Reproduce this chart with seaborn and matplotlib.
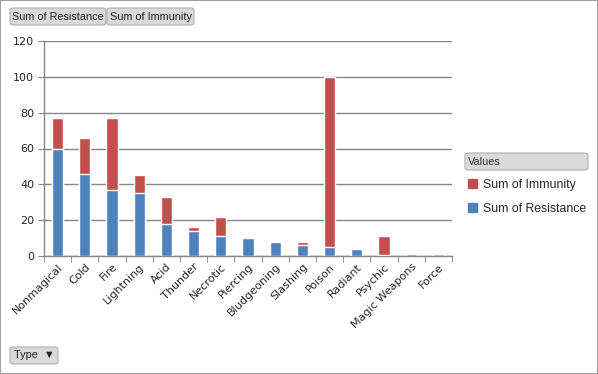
import matplotlib
matplotlib.use('Agg')
import matplotlib.pyplot as plt
import seaborn as sns
import pandas as pd
from matplotlib.patches import FancyBboxPatch, Rectangle, Patch

# Datos
tipos = ['Nonmagical', 'Cold', 'Fire', 'Lightning', 'Acid', 'Thunder', 'Necrotic',
         'Piercing', 'Bludgeoning', 'Slashing', 'Poison', 'Radiant', 'Psychic',
         'Magic Weapons', 'Force']
resistencia = [60, 46, 37, 35, 18, 14, 11, 10, 8, 6, 5, 4, 0.5, 1, 0]
inmunidad = [17, 20, 40, 10, 15, 2, 11, 0, 0, 2, 95, 0, 10.5, 0, 1]

df = pd.DataFrame({'Type': tipos, 'Resistance': resistencia, 'Immunity': inmunidad})
df['Total'] = df['Resistance'] + df['Immunity']

azul = '#4F81BD'
rojo = '#C0504D'
gris = '#868686'

sns.set_style('white')
plt.rcParams['font.family'] = ['DejaVu Sans']

W, H = 598, 374
fig = plt.figure(figsize=(W / 100, H / 100), dpi=100)

def fx(x):
    return x / W

def fy(y):
    return 1 - y / H

ax = fig.add_axes([fx(44), fy(256), fx(452) - fx(44), fy(41) - fy(256)])

sns.barplot(data=df, x='Type', y='Total', color=rojo, width=0.41, saturation=1, ax=ax, zorder=3)
sns.barplot(data=df, x='Type', y='Resistance', color=azul, width=0.41, saturation=1, ax=ax, zorder=3)

ax.set_ylim(0, 120)
ax.set_xlim(-0.5, len(tipos) - 0.5)
ax.set_yticks(range(0, 121, 20))
ax.yaxis.grid(True, color=gris, linewidth=1, zorder=0)
ax.set_axisbelow(True)
ax.set_xlabel('')
ax.set_ylabel('')
for s in ['top', 'right']:
    ax.spines[s].set_visible(False)
for s in ['left', 'bottom']:
    ax.spines[s].set_color(gris)
    ax.spines[s].set_linewidth(1)

ax.set_xticks(range(len(tipos)))
ax.set_xticklabels(tipos, rotation=45, ha='right', rotation_mode='anchor', fontsize=8)
ax.tick_params(axis='x', length=0, pad=4)
ax.tick_params(axis='y', labelsize=8, length=4, color=gris, left=True, pad=3)
# marcas entre categorias
ax.set_xticks([i - 0.5 for i in range(len(tipos) + 1)], minor=True)
ax.tick_params(axis='x', which='minor', length=4, color=gris, bottom=True, direction='out')

# borde de la figura
fig.patches.append(Rectangle((0, 0), 1, 1, transform=fig.transFigure, fill=False,
                             edgecolor='#A0A0A0', linewidth=1.5))

def boton(x0, y0, x1, y1, texto, fs=8, ha='center'):
    p = FancyBboxPatch((fx(x0), fy(y1)), fx(x1) - fx(x0), fy(y0) - fy(y1),
                       boxstyle='round,pad=0,rounding_size=0.006',
                       transform=fig.transFigure, facecolor='#D9D9D9',
                       edgecolor='#B0B0B0', linewidth=0.8)
    fig.patches.append(p)
    if ha == 'center':
        fig.text(fx((x0 + x1) / 2), fy((y0 + y1) / 2), texto, ha='center', va='center',
                 fontsize=fs, color='#202020', family='Liberation Sans')
    else:
        fig.text(fx(x0 + 3), fy((y0 + y1) / 2), texto, ha='left', va='center',
                 fontsize=fs, color='#333333', family='Liberation Sans')

boton(10, 8, 106, 25, 'Sum of Resistance', fs=7.8)
boton(107, 8, 194, 25, 'Sum of Immunity', fs=7.8)
boton(10, 347, 58, 364, 'Type  \u25bc', fs=7.8)
boton(465, 153, 588, 170, 'Values', fs=7.8, ha='left')

# leyenda
handles = [Patch(color=rojo, label='Sum of Immunity'),
           Patch(color=azul, label='Sum of Resistance')]
fig.legend(handles=handles, loc='upper left', bbox_to_anchor=(fx(457), fy(168)),
           frameon=False, prop={'family': 'Liberation Sans', 'size': 8.8},
           handlelength=0.7, handleheight=0.7, handletextpad=0.5, labelspacing=0.95)

fig.savefig('out.png', dpi=100)
